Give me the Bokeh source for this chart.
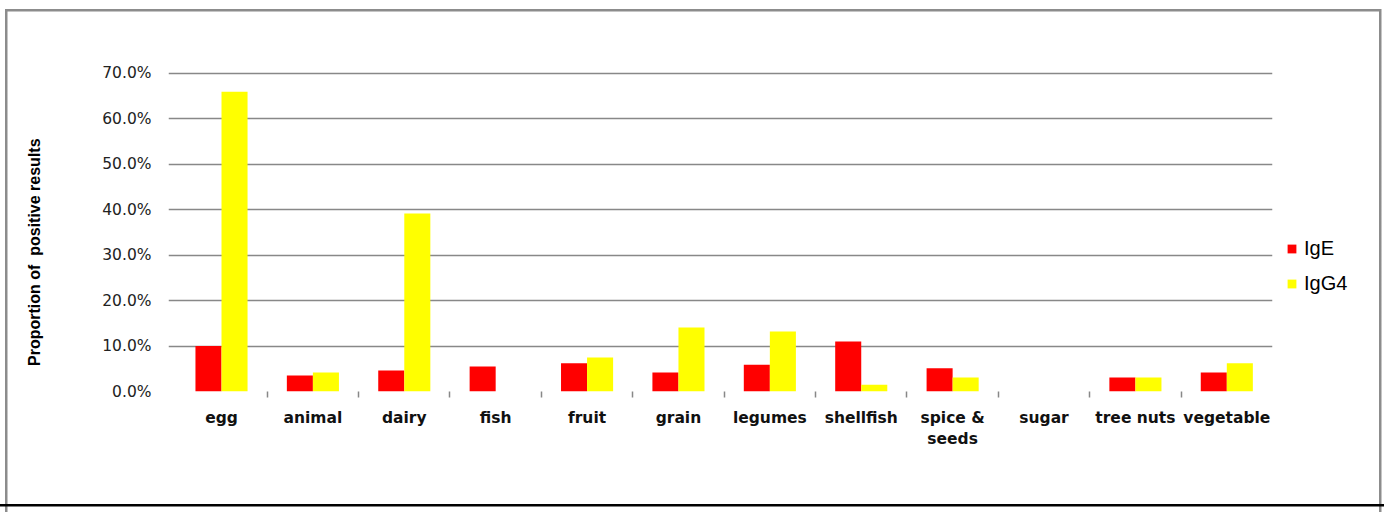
from bokeh.plotting import figure
from bokeh.models import (ColumnDataSource, FixedTicker, Legend, LegendItem, Range1d)
from bokeh.embed import file_html
from bokeh.resources import INLINE

categories = ["egg", "animal", "dairy", "fish", "fruit", "grain", "legumes",
              "shellfish", "spice &\nseeds", "sugar", "tree nuts", "vegetable"]
ige = [10.0, 3.5, 4.6, 5.5, 6.2, 4.2, 5.9, 11.0, 5.1, 0.0, 3.1, 4.2]
igg4 = [66.0, 4.2, 39.2, 0.0, 7.5, 14.1, 13.2, 1.5, 3.1, 0.0, 3.1, 6.2]
y_ticks = [0, 10, 20, 30, 40, 50, 60, 70]
y_tick_labels = ["0.0%", "10.0%", "20.0%", "30.0%", "40.0%", "50.0%", "60.0%", "70.0%"]
series_names = ["IgE", "IgG4"]
series_colors = ["#ff0000", "#ffff00"]
y_title = "Proportion of\u00a0 positive results"

n = len(categories)
centers = [i + 0.5 for i in range(n)]
bw = 0.285

src = ColumnDataSource(dict(
    xe=[c - bw / 2 for c in centers],
    xg=[c + bw / 2 for c in centers],
    ige=[v / 100 for v in ige],
    igg4=[v / 100 for v in igg4],
))

p = figure(frame_width=1104, frame_height=323, output_backend="svg", toolbar_location=None,
           x_range=Range1d(-0.08, 12), y_range=Range1d(0, 0.711),
           min_border_left=168, min_border_right=112,
           min_border_top=68, min_border_bottom=121)
p.outline_line_color = None
p.background_fill_color = "white"
p.border_fill_alpha = 0

# outer chart border lines (drawn as the page element's background)
p.styles = {
    "background-color": "white",
    "background-image": ", ".join(["linear-gradient(#000000, #000000)"] +
                                  ["linear-gradient(#8c8c8c, #8c8c8c)"] * 3),
    "background-position": "0px 504px, 6px 9px, 5px 9px, 1379px 9px",
    "background-size": "1384px 2.5px, 1375px 2.5px, 2.5px 503px, 2.5px 503px",
    "background-repeat": "no-repeat",
}

r1 = p.vbar(x="xe", top="ige", bottom=0, width=bw, source=src,
            fill_color=series_colors[0], line_color=None)
r2 = p.vbar(x="xg", top="igg4", bottom=0, width=bw, source=src,
            fill_color=series_colors[1], line_color=None)

# y axis
yax = p.yaxis[0]
yax.ticker = FixedTicker(ticks=[t / 100 for t in y_ticks])
yax.major_label_overrides = {t / 100: lab for t, lab in zip(y_ticks, y_tick_labels)}
yax.axis_line_color = None
yax.major_tick_line_color = None
yax.minor_tick_line_color = None
yax.major_label_text_font = "DejaVu Sans"
yax.major_label_text_font_size = "15.5px"
yax.major_label_text_color = "#222222"
yax.major_label_standoff = 11
yax.axis_label = y_title + "\u00a0" * 10
yax.axis_label_text_font = "Liberation Sans"
yax.axis_label_text_font_style = "bold"
yax.axis_label_text_font_size = "16px"
yax.axis_label_text_color = "#000000"
yax.axis_label_standoff = 56

p.ygrid[0].ticker = FixedTicker(ticks=[t / 100 for t in y_ticks[1:]])
p.ygrid[0].grid_line_color = "#888888"
p.ygrid[0].grid_line_width = 1.5
p.xgrid[0].grid_line_color = None

# x axis
xax = p.xaxis[0]
xax.ticker = FixedTicker(ticks=centers, minor_ticks=list(range(1, n)))
xax.major_label_overrides = {c: lab for c, lab in zip(centers, categories)}
xax.axis_line_color = None
xax.major_tick_line_color = None
xax.major_tick_out = 0
xax.major_tick_in = 0
xax.minor_tick_line_color = "#888888"
xax.minor_tick_line_width = 1.5
xax.minor_tick_in = 0
xax.minor_tick_out = 6
xax.major_label_text_font = "DejaVu Sans"
xax.major_label_text_font_style = "bold"
xax.major_label_text_font_size = "15.5px"
xax.major_label_text_color = "#111111"
xax.major_label_standoff = 11

# legend in the right-hand panel; an empty title pushes the items down
legend = Legend(items=[LegendItem(label=series_names[0], renderers=[r1]),
                       LegendItem(label=series_names[1], renderers=[r2])],
                location="top_left", orientation="vertical",
                title="\u00a0", title_text_font_size="1px", title_standoff=154,
                glyph_width=11, glyph_height=11, label_standoff=7,
                spacing=12, padding=15, margin=14,
                label_text_font="Liberation Sans", label_text_font_size="20px",
                label_text_color="#000000",
                label_height=20, border_line_color=None,
                background_fill_alpha=0)
p.add_layout(legend, "right")

open("out.html", "w").write(file_html(p, INLINE))
